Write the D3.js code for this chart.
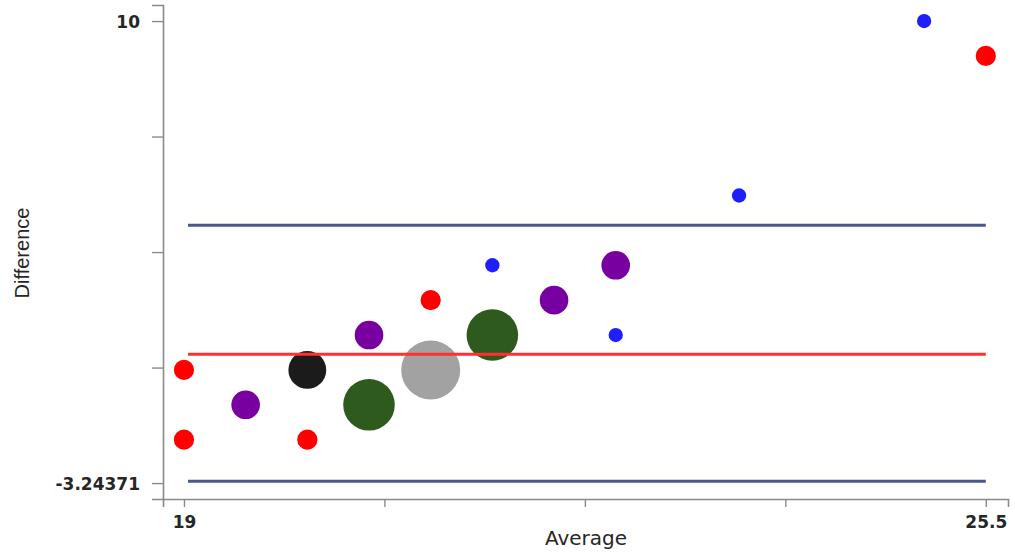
<!DOCTYPE html>
<html>
<head>
<meta charset="utf-8">
<script src="https://cdn.jsdelivr.net/npm/d3@7"></script>
<style>
  body { margin: 0; background: #fff; }
  svg { display: block; }
</style>
</head>
<body>
<svg id="chart" width="1015" height="552"></svg>
<script>
// bland-altman style plot, bubble size = number of obs
var averages = [19, 19, 19.5, 20, 20, 20.5, 20.5, 21, 21, 21.5, 21.5, 22, 22.5, 22.5, 23.5, 25, 25.5];
var differences = [0, -2, -1, 0, -2, 1, -1, 2, 0, 1, 3, 2, 3, 1, 5, 10, 9];
var counts = [2, 2, 4, 7, 2, 4, 13, 2, 17, 13, 1, 4, 4, 1, 1, 1, 2];

var countLevels = [1, 2, 4, 7, 13, 17];
var countColors = ["#1e1eff", "#ff0000", "#7800a0", "#1b1b1b", "#2e5a1e", "#a2a2a2"];

var meanDiff = 0.45;
var upperLimit = 4.15;
var lowerLimit = -3.19;

var yTickLabels = ["-3.24371", "10"];
var yMin = -3.24371, yMax = 10;
var xTickLabels = ["19", "25.5"];
var xMin = 19, xMax = 25.5;

var points = averages.map(function(a, i) {
  return { avg: a, diff: differences[i], n: counts[i] };
});

var svg = d3.select("#chart");

var x = d3.scaleLinear().domain([18.83, 25.68]).range([163, 1008]);
var y = d3.scaleLinear().domain([-3.70, 10.46]).range([499, 5]);
var r = d3.scaleSqrt().domain([0, 17]).range([0, 29.5]);
var color = d3.scaleOrdinal().domain(countLevels).range(countColors);

// evenly spaced ticks between the min and max, only ends labelled
var yTicks = d3.range(5).map(function(i) { return yMin + i * (yMax - yMin) / 4; });
var xTicks = d3.range(5).map(function(i) { return xMin + i * (xMax - xMin) / 4; });

var yAxis = d3.axisLeft(y).tickValues(yTicks).tickSize(11).tickPadding(12)
  .tickFormat(function(d, i) {
    if (i == 0) return yTickLabels[0];
    if (i == 4) return yTickLabels[1];
    return "";
  });
var xAxis = d3.axisBottom(x).tickValues(xTicks).tickSize(8).tickPadding(6)
  .tickFormat(function(d, i) {
    if (i == 0) return xTickLabels[0];
    if (i == 4) return xTickLabels[1];
    return "";
  });

var gy = svg.append("g").attr("transform", "translate(163,0)").call(yAxis);
var gx = svg.append("g").attr("transform", "translate(0,499)").call(xAxis);

[gx, gy].forEach(function(g) {
  g.select(".domain").attr("stroke", "#8a8a8a").attr("stroke-width", 1.6);
  g.selectAll(".tick line").attr("stroke", "#8a8a8a").attr("stroke-width", 1.4);
  g.selectAll(".tick text")
    .attr("font-family", "DejaVu Sans")
    .attr("font-weight", "bold")
    .attr("font-size", 17)
    .attr("fill", "#262626");
});
gy.selectAll(".tick text").attr("dy", "0.35em");
gx.selectAll(".tick text").attr("dy", "0.9em");

// bubbles
svg.append("g").selectAll("circle")
  .data(points)
  .enter()
  .append("circle")
  .attr("cx", function(d) { return x(d.avg); })
  .attr("cy", function(d) { return y(d.diff); })
  .attr("r", function(d) { return r(d.n); })
  .attr("fill", function(d) { return color(d.n); });

// limits of agreement + mean, drawn over the bubbles
var hlines = [
  { v: upperLimit, c: "#4a5790" },
  { v: meanDiff, c: "#ff3030" },
  { v: lowerLimit, c: "#4a5790" }
];
svg.append("g").selectAll("line")
  .data(hlines)
  .enter()
  .append("line")
  .attr("x1", x(xMin) + 4)
  .attr("x2", x(xMax))
  .attr("y1", function(d) { return y(d.v); })
  .attr("y2", function(d) { return y(d.v); })
  .attr("stroke", function(d) { return d.c; })
  .attr("stroke-width", 3);

svg.append("text")
  .attr("x", 586)
  .attr("y", 545)
  .attr("text-anchor", "middle")
  .attr("font-family", "DejaVu Sans")
  .attr("font-size", 20)
  .attr("fill", "#262626")
  .text("Average");

svg.append("text")
  .attr("transform", "translate(29,253) rotate(-90)")
  .attr("text-anchor", "middle")
  .attr("font-family", "Liberation Sans")
  .attr("font-size", 20)
  .attr("fill", "#262626")
  .text("Difference");
</script>
</body>
</html>
